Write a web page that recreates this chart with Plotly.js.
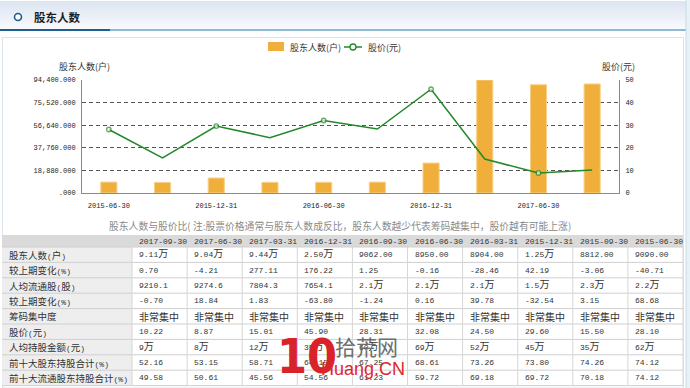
<!DOCTYPE html>
<html><head><meta charset="utf-8">
<script src="https://cdn.plot.ly/plotly-3.0.1.min.js"></script>
<style>html,body{margin:0;padding:0;background:#fff;}#chart{width:690px;height:388px;}</style>
</head><body><div id="chart"></div>
<script>
// ---------- data (table order: newest first) ----------
const dates = ['2017-09-30','2017-06-30','2017-03-31','2016-12-31','2016-09-30','2016-06-30','2016-03-31','2015-12-31','2015-09-30','2015-06-30'];
const holders = [91100, 90400, 94400, 25000, 9062, 8950, 8904, 12500, 8812, 9090];
const prices = [10.22, 8.87, 15.01, 45.90, 28.31, 32.08, 24.50, 29.60, 15.50, 28.10];
const xTickDates = ['2015-06-30','2015-12-31','2016-06-30','2016-12-31','2017-06-30'];
const leftTickVals = [0, 18880, 37760, 56640, 75520, 94400];
const leftTickText = ['.000','18,880.000','37,760.000','56,640.000','75,520.000','94,400.000'];
const rightTickVals = [0, 10, 20, 30, 40, 50];

const rowLabels = ['股东人数(户)','较上期变化(%)','人均流通股(股)','较上期变化(%)','筹码集中度','股价(元)','人均持股金额(元)','前十大股东持股合计(%)','前十大流通股东持股合计(%)'];
const rowHolders = ['9.11万','9.04万','9.44万','2.50万','9062.00','8950.00','8904.00','1.25万','8812.00','9090.00'];
const rowHolderChg = ['0.70','-4.21','277.11','176.22','1.25','-0.16','-28.46','42.19','-3.06','-40.71'];
const rowPerShare = ['9210.1','9274.6','7804.3','7654.1','2.1万','2.1万','2.1万','1.5万','2.3万','2.2万'];
const rowPerShareChg = ['-0.70','18.84','1.83','-63.80','-1.24','0.16','39.78','-32.54','3.15','68.68'];
const rowConcentration = ['非常集中','非常集中','非常集中','非常集中','非常集中','非常集中','非常集中','非常集中','非常集中','非常集中'];
const rowPerValue = ['9万','8万','12万','35万','60万','69万','52万','45万','35万','62万'];
const rowTop10 = ['52.16','53.15','58.71','64.15','67.25','68.61','73.26','73.80','74.26','74.12'];
const rowTop10Float = ['49.58','50.61','45.56','54.56','61.23','59.72','69.18','69.72','70.18','74.12'];
const tableTitle = '股东人数与股价比( 注:股票价格通常与股东人数成反比，股东人数越少代表筹码越集中，股价越有可能上涨)';

// ---------- helpers ----------
const W = 690, H = 388;
const px = x => x / W;
const py = y => 1 - y / H;
const MONO = 'Liberation Mono, Noto Sans CJK SC, monospace';
const CJK = 'Noto Sans CJK SC, sans-serif';

const chartDates = dates.slice().reverse();
const chartHolders = holders.slice().reverse();
const chartPrices = prices.slice().reverse();
const markerSizes = chartDates.map(d => xTickDates.includes(d) ? 4.5 : 0);

const traces = [
  {type:'bar', x: chartDates, y: chartHolders, width: 0.3, marker:{color:'#f0af3b', line:{color:'#f7cf85', width:1}},
   xaxis:'x', yaxis:'y', showlegend:false, hoverinfo:'skip'},
  {type:'scatter', mode:'lines+markers', x: chartDates, y: chartPrices, xaxis:'x', yaxis:'y2',
   line:{color:'#24882a', width:1.5}, marker:{symbol:'circle', size: markerSizes, color:'#ffffff', line:{color:'#24882a', width:1.3}},
   showlegend:false, hoverinfo:'skip'}
];

const shapes = [];
const annotations = [];

// header band (gradient by strips)
const gradTop = [221, 229, 241], gradBot = [247, 249, 252];
const strips = 14;
for (let i = 0; i < strips; i++) {
  const t = i / (strips - 1);
  const c = gradTop.map((v, k) => Math.round(v + (gradBot[k] - v) * t));
  shapes.push({type:'rect', xref:'paper', yref:'paper', x0:px(0), x1:px(686), y0:py(1 + i*2), y1:py(1 + (i+1)*2 + 0.5),
    fillcolor:`rgb(${c[0]},${c[1]},${c[2]})`, line:{width:0}});
}
shapes.push({type:'rect', xref:'paper', yref:'paper', x0:px(0), x1:px(110), y0:py(29), y1:py(31), fillcolor:'#1d5e8e', line:{width:0}});
shapes.push({type:'rect', xref:'paper', yref:'paper', x0:px(110), x1:px(686), y0:py(29), y1:py(31), fillcolor:'#8dbad9', line:{width:0}});
shapes.push({type:'circle', xref:'paper', yref:'paper', x0:px(14.5), x1:px(21.5), y0:py(13.5), y1:py(20.5), fillcolor:'#ffffff', line:{color:'#1d5e8e', width:1.6}});
annotations.push({xref:'paper', yref:'paper', x:px(32), y:py(17), xanchor:'left', yanchor:'middle', showarrow:false,
  text:'<b>股东人数</b>', font:{family:CJK, size:11.5, color:'#1f1f1f'}});
// right strip
shapes.push({type:'rect', xref:'paper', yref:'paper', x0:px(686), x1:px(690), y0:py(0), y1:py(388), fillcolor:'#e6f2f8', line:{width:0}});
shapes.push({type:'line', xref:'paper', yref:'paper', x0:px(686), x1:px(686), y0:py(0), y1:py(388), line:{color:'#c6dbe6', width:1}});
// panel border
shapes.push({type:'rect', xref:'paper', yref:'paper', x0:px(2.5), x1:px(683.5), y0:py(37.5), y1:py(388), fillcolor:'rgba(0,0,0,0)', line:{color:'#dde3ea', width:1}});

// legend
shapes.push({type:'rect', xref:'paper', yref:'paper', x0:px(268), x1:px(284), y0:py(42), y1:py(51), fillcolor:'#f0af3b', line:{width:0}});
annotations.push({xref:'paper', yref:'paper', x:px(288), y:py(47), xanchor:'left', yanchor:'middle', showarrow:false,
  text:'股东人数(户)', font:{family:CJK, size:9, color:'#333'}});
shapes.push({type:'line', xref:'paper', yref:'paper', x0:px(344), x1:px(362), y0:py(47), y1:py(47), line:{color:'#24882a', width:1.5}});
shapes.push({type:'circle', xref:'paper', yref:'paper', x0:px(350), x1:px(356), y0:py(44), y1:py(50), fillcolor:'#ffffff', line:{color:'#24882a', width:1.3}});
annotations.push({xref:'paper', yref:'paper', x:px(366), y:py(47), xanchor:'left', yanchor:'middle', showarrow:false,
  text:'股价(元)', font:{family:CJK, size:9, color:'#333'}});

// axis titles
annotations.push({xref:'paper', yref:'paper', x:px(57), y:py(66), xanchor:'left', yanchor:'middle', showarrow:false,
  text:'股东人数(户)', font:{family:CJK, size:9, color:'#333'}});
annotations.push({xref:'paper', yref:'paper', x:px(600), y:py(66), xanchor:'left', yanchor:'middle', showarrow:false,
  text:'股价(元)', font:{family:CJK, size:9, color:'#333'}});

// table title
annotations.push({xref:'paper', yref:'paper', x:px(340), y:py(226), xanchor:'center', yanchor:'middle', showarrow:false,
  text: tableTitle, font:{family:CJK, size:9.8, color:'#8a8a8a'}});

// table
const tLeft = 2, firstW = 130, colW = 55.1, headTop = 235, headH = 12, rowH = 15.4;
const tRight = tLeft + firstW + colW * dates.length;
const rows = [rowHolders, rowHolderChg, rowPerShare, rowPerShareChg, rowConcentration,
  prices.map(v => v.toFixed(2)), rowPerValue, rowTop10, rowTop10Float];
const tBottom = headTop + headH + rowH * rows.length;
shapes.push({type:'rect', xref:'paper', yref:'paper', x0:px(tLeft), x1:px(tRight), y0:py(headTop), y1:py(headTop+headH), fillcolor:'#dadada', line:{width:0}});
shapes.push({type:'rect', xref:'paper', yref:'paper', x0:px(tLeft), x1:px(tLeft+firstW), y0:py(headTop+headH), y1:py(tBottom), fillcolor:'#eeeeee', line:{width:0}});
for (let r = 0; r <= rows.length; r++) {
  const y = headTop + headH + r * rowH;
  shapes.push({type:'line', xref:'paper', yref:'paper', x0:px(tLeft), x1:px(tRight), y0:py(y), y1:py(y), line:{color:'#cfcfcf', width:1}});
}
for (let c = 0; c <= dates.length; c++) {
  const x = tLeft + firstW + c * colW;
  shapes.push({type:'line', xref:'paper', yref:'paper', x0:px(x), x1:px(x), y0:py(headTop+headH), y1:py(tBottom), line:{color:'#d6d6d6', width:1}});
}
const fmt = s => s.replace(/万/g, '<span style="font-size:10px">万</span>');
const isCJK = s => /^[\u4e00-\u9fff]+$/.test(s);
const half = ch => '<span style="font-family:Liberation Mono;font-size:8px">' + ch + '</span>';
dates.forEach((d, c) => {
  annotations.push({xref:'paper', yref:'paper', x:px(tLeft + firstW + c*colW + 5), y:py(headTop + headH/2 + 0.5), xanchor:'left', yanchor:'middle',
    showarrow:false, text:d, font:{family:MONO, size:8, color:'#333'}});
});
rowLabels.forEach((lab, r) => {
  const yc = headTop + headH + rowH * (r + 0.5);
  annotations.push({xref:'paper', yref:'paper', x:px(tLeft + 5), y:py(yc), xanchor:'left', yanchor:'middle', showarrow:false,
    text: lab.replace(/[()%]/g, half),
    font:{family:CJK, size:9.5, color:'#333'}});
  rows[r].forEach((v, c) => {
    annotations.push({xref:'paper', yref:'paper', x:px(tLeft + firstW + c*colW + 5), y:py(yc), xanchor:'left', yanchor:'middle', showarrow:false,
      text: fmt(v), font: isCJK(v) ? {family:CJK, size:10, color:'#333'} : {family:MONO, size:8, color:'#333'}});
  });
});

// watermark
annotations.push({xref:'paper', yref:'paper', x:px(275), y:py(356), xanchor:'left', yanchor:'middle', showarrow:false,
  text:'<b>10</b>', font:{family:'Liberation Sans Narrow, DejaVu Sans Condensed, Liberation Sans', size:48, color:'#d9232b'}});
annotations.push({xref:'paper', yref:'paper', x:px(366), y:py(346), xanchor:'center', yanchor:'middle', showarrow:false,
  text:'拾荒网', font:{family:CJK, size:21, color:'#6e6e6e'}});
annotations.push({xref:'paper', yref:'paper', x:px(363), y:py(369), xanchor:'center', yanchor:'middle', showarrow:false,
  text:'Huang.CN', font:{family:'Liberation Sans, Arial', size:18, color:'#e0262c'}});

const layout = {
  width: W, height: H,
  margin:{l:0, r:0, t:0, b:0},
  paper_bgcolor:'#ffffff', plot_bgcolor:'#ffffff',
  showlegend:false,
  xaxis:{domain:[px(82), px(619)], type:'category', categoryarray: chartDates, categoryorder:'array', range:[-0.5, chartDates.length - 0.5],
    tickmode:'array', tickvals: xTickDates, ticktext: xTickDates, ticks:'', showgrid:false, showline:true, linecolor:'#8a8a8a', linewidth:1,
    tickfont:{family:MONO, size:7, color:'#222'}, ticklabelstandoff:6, zeroline:false, fixedrange:true},
  yaxis:{domain:[py(193), py(80)], range:[0, 94400], tickmode:'array', tickvals:leftTickVals, ticktext:leftTickText,
    ticks:'', showline:true, linecolor:'#8a8a8a', linewidth:1, showgrid:true, gridcolor:'#555555', gridwidth:1, griddash:'4px,3px',
    zeroline:false, tickfont:{family:MONO, size:7, color:'#222'}, ticklabelstandoff:4, fixedrange:true},
  yaxis2:{domain:[py(193), py(80)], overlaying:'y', side:'right', anchor:'x', range:[0, 50], tickmode:'array', tickvals:rightTickVals,
    ticks:'', showline:true, linecolor:'#8a8a8a', linewidth:1, showgrid:false, zeroline:false,
    tickfont:{family:MONO, size:7, color:'#222'}, ticklabelstandoff:4, fixedrange:true},
  shapes: shapes,
  annotations: annotations,
  bargap: 0.7
};

Plotly.newPlot('chart', traces, layout, {displayModeBar:false, staticPlot:true});
</script>
</body></html>
